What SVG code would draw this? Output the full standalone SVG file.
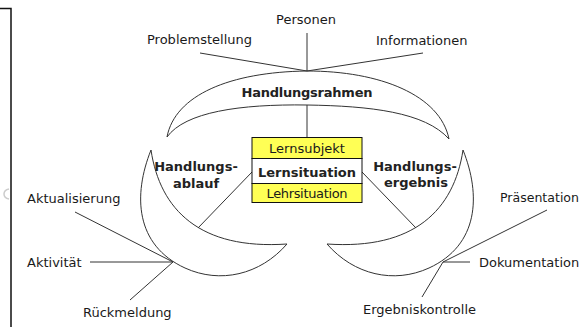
<svg xmlns="http://www.w3.org/2000/svg" width="581" height="327" viewBox="0 0 581 327">
<style>
.t{font-family:"DejaVu Sans","Liberation Sans",sans-serif;font-size:13px;fill:#1a1a1a}
.b{font-weight:bold;fill:#222}
.m{text-anchor:middle}
.c{fill:none;stroke:#333;stroke-width:1}
.ln{stroke:#333;stroke-width:1;fill:none}
.y{fill:#ffff55;stroke:#111;stroke-width:1}
.w{fill:#fff;stroke:#111;stroke-width:1}
</style>
<rect width="581" height="327" fill="#fff"/>
<g id="frame">
<path d="M0,8.5 H11 V327" fill="none" stroke="#111" stroke-width="1.5"/>
<path d="M9,189 q-5,1 -5,5 q0,4 5,5" fill="none" stroke="#ccc" stroke-width="1.5"/>
</g>
<g id="connectors">
<line class="ln" x1="200" y1="53" x2="307" y2="71"/>
<line class="ln" x1="307" y1="33" x2="307" y2="71"/>
<line class="ln" x1="423" y1="53" x2="307" y2="71"/>
<line class="ln" x1="307" y1="105" x2="307" y2="137"/>
<line class="ln" x1="252" y1="172" x2="198" y2="228"/>
<line class="ln" x1="362" y1="172" x2="416" y2="228"/>
<line class="ln" x1="75" y1="212" x2="173" y2="262"/>
<line class="ln" x1="90" y1="262" x2="173" y2="262"/>
<line class="ln" x1="130" y1="300" x2="173" y2="262"/>
<line class="ln" x1="547" y1="210" x2="443" y2="262"/>
<line class="ln" x1="470" y1="262" x2="443" y2="262"/>
<line class="ln" x1="422" y1="297" x2="443" y2="262"/>
</g>
<g id="handlungsrahmen">
<path class="c" d="M167,137 C175,95 230,72 307,71 C380,71 440,95 449,139"/>
<path class="c" d="M167,137 C185,112 240,104 307,105 C370,106 425,112 449,139"/>
<text class="t b m" x="307" y="97" textLength="131">Handlungsrahmen</text>
</g>
<g id="handlungsablauf">
<path class="c" d="M151,150 C160,210 200,250 287,244"/>
<path class="c" d="M151,150 C133,195 135,245 185,268 C220,284 260,275 287,244"/>
<text class="t b m" x="196" y="171">Handlungs-</text>
<text class="t b m" x="196" y="188">ablauf</text>
</g>
<g id="handlungsergebnis">
<path class="c" d="M463,150 C454,210 414,250 327,244"/>
<path class="c" d="M463,150 C481,195 479,245 429,268 C394,284 354,275 327,244"/>
<text class="t b m" x="415" y="171">Handlungs-</text>
<text class="t b m" x="416" y="187">ergebnis</text>
</g>
<g id="lernsituation">
<rect class="y" x="252" y="137.5" width="110" height="21"/>
<rect class="w" x="252" y="158.5" width="110" height="25"/>
<rect class="y" x="252" y="183.5" width="110" height="19"/>
<text class="t m" x="307" y="153">Lernsubjekt</text>
<text class="t b m" x="307" y="177">Lernsituation</text>
<text class="t m" x="307" y="198" textLength="81">Lehrsituation</text>
</g>
<g id="personen"><text class="t m" x="306" y="24">Personen</text></g>
<g id="problemstellung"><text class="t" x="147" y="44">Problemstellung</text></g>
<g id="informationen"><text class="t" x="376" y="45">Informationen</text></g>
<g id="aktualisierung"><text class="t" x="27" y="203">Aktualisierung</text></g>
<g id="aktivitaet"><text class="t" x="27" y="267">Aktivität</text></g>
<g id="rueckmeldung"><text class="t" x="83" y="317">Rückmeldung</text></g>
<g id="praesentation"><text class="t" x="500" y="202" textLength="79" lengthAdjust="spacingAndGlyphs">Präsentation</text></g>
<g id="dokumentation"><text class="t" x="479" y="267">Dokumentation</text></g>
<g id="ergebniskontrolle"><text class="t" x="363" y="314">Ergebniskontrolle</text></g>
</svg>
